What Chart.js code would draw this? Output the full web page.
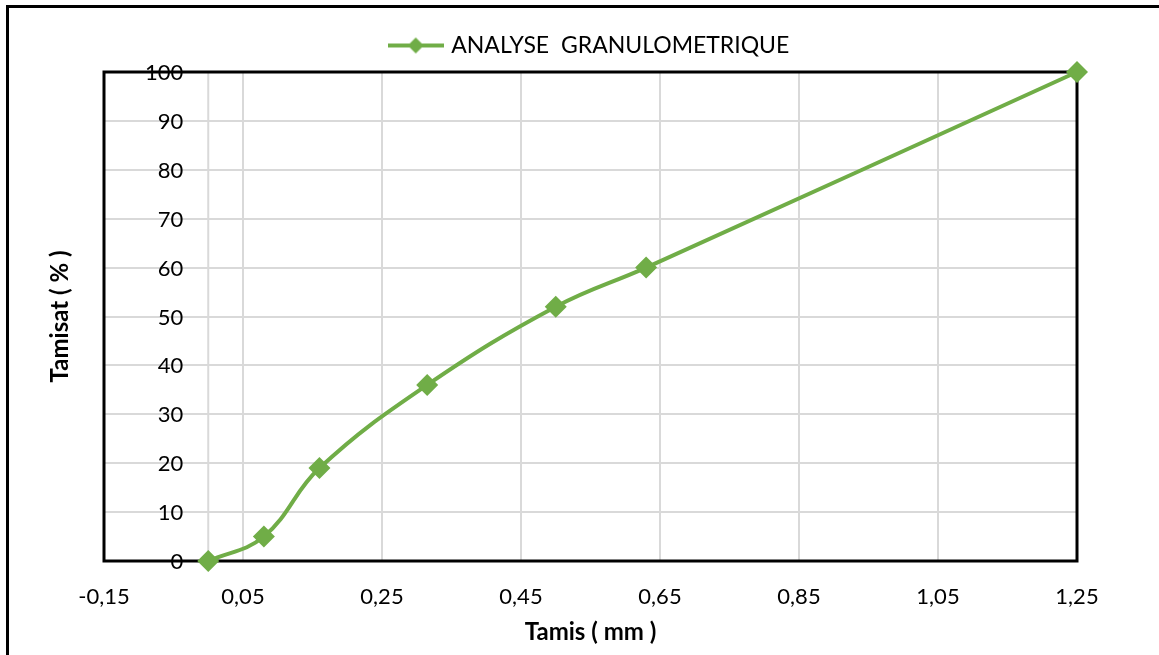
<!DOCTYPE html>
<html>
<head>
<meta charset="utf-8">
<script src="https://cdn.jsdelivr.net/npm/chart.js@4.4.1/dist/chart.umd.min.js"></script>
<style>
  html, body { margin: 0; padding: 0; background: #fff; overflow: hidden; }
  #wrap { width: 1159px; height: 655px; }
</style>
</head>
<body>
<div id="wrap"><canvas id="graphique" width="1159" height="655"></canvas></div>
<script>
// données
const tamis = [0, 0.08, 0.16, 0.315, 0.5, 0.63, 1.25];      // mm
const tamisat = [0, 5, 19, 36, 52, 60, 100];                 // %
const nomSerie = 'ANALYSE  GRANULOMETRIQUE';
const ticksX = [-0.15, 0.05, 0.25, 0.45, 0.65, 0.85, 1.05, 1.25];
const ticksY = [0, 10, 20, 30, 40, 50, 60, 70, 80, 90, 100];

const vert = '#70AD47';
const gris = '#d9d9d9';
const police = 'Lato';

// petit dessin ligne + losange pour la légende
const iconeLegende = (() => {
    const c = document.createElement('canvas');
    c.width = 56;
    c.height = 20;
    const g = c.getContext('2d');
    g.strokeStyle = vert;
    g.lineWidth = 4;
    g.beginPath();
    g.moveTo(0, 10);
    g.lineTo(56, 10);
    g.stroke();
    g.fillStyle = vert;
    g.beginPath();
    g.moveTo(28, 2);
    g.lineTo(36, 10);
    g.lineTo(28, 18);
    g.lineTo(20, 10);
    g.closePath();
    g.fill();
    return c;
})();

// cadre extérieur (bords gauche et haut visibles)
const cadre = {
    id: 'cadre',
    beforeDraw(chart) {
        const ctx = chart.ctx;
        ctx.save();
        ctx.fillStyle = '#000';
        ctx.fillRect(6, 5, 3, chart.height);
        ctx.fillRect(6, 5, chart.width, 3);
        ctx.restore();
    }
};

// axe vertical en x = 0 avec ses étiquettes, puis bordure de la zone de traçage
const axeY = {
    id: 'axeY',
    beforeDatasetsDraw(chart) {
        const { ctx, chartArea: a, scales: { x, y } } = chart;
        const x0 = x.getPixelForValue(0);
        ctx.save();
        ctx.strokeStyle = gris;
        ctx.lineWidth = 2;
        ctx.beginPath();
        ctx.moveTo(x0, a.top);
        ctx.lineTo(x0, a.bottom);
        ctx.stroke();

        ctx.font = '22px ' + police;
        ctx.fillStyle = '#000';
        ctx.textAlign = 'right';
        ctx.textBaseline = 'middle';
        y.ticks.forEach(t => {
            ctx.fillText(String(t.value), x0 - 25, y.getPixelForValue(t.value) + 1);
        });

        ctx.strokeStyle = '#000';
        ctx.lineWidth = 3;
        ctx.strokeRect(a.left, a.top, a.width, a.height);
        ctx.restore();
    }
};

const dessiner = () => {
    Chart.defaults.font.family = police;
    Chart.defaults.color = '#000';

    const ctx = document.getElementById('graphique').getContext('2d');
    new Chart(ctx, {
        type: 'line',
        data: {
            datasets: [{
                label: nomSerie,
                data: tamis.map((t, i) => ({ x: t, y: tamisat[i] })),
                borderColor: vert,
                backgroundColor: vert,
                borderWidth: 4,
                tension: 0.4,
                pointStyle: 'rectRot',
                pointRadius: 11,
                pointHoverRadius: 11,
                pointBorderWidth: 0,
                clip: false
            }]
        },
        options: {
            responsive: false,
            animation: false,
            devicePixelRatio: 1,
            layout: { padding: { top: 22, right: 82, bottom: 0, left: 0 } },
            plugins: {
                tooltip: { enabled: false },
                legend: {
                    position: 'top',
                    fullSize: false,
                    labels: {
                        usePointStyle: true,
                        pointStyleWidth: 48,
                        padding: 12,
                        font: { size: 23 },
                        color: '#000',
                        generateLabels: (chart) => [{
                            text: nomSerie,
                            pointStyle: iconeLegende,
                            fillStyle: vert,
                            strokeStyle: vert,
                            lineWidth: 0,
                            hidden: false,
                            datasetIndex: 0
                        }]
                    }
                }
            },
            scales: {
                x: {
                    type: 'linear',
                    min: -0.15,
                    max: 1.25,
                    afterBuildTicks: s => { s.ticks = ticksX.map(v => ({ value: v })); },
                    afterFit: s => { s.height = 94; },
                    grid: { color: gris, lineWidth: 2, drawTicks: false },
                    border: { display: false },
                    ticks: {
                        padding: 23,
                        maxRotation: 0,
                        autoSkip: false,
                        font: { size: 22 },
                        callback: v => v.toFixed(2).replace('.', ',')
                    },
                    title: {
                        display: true,
                        text: 'Tamis ( mm )',
                        font: { size: 24, weight: 'bold' },
                        padding: { top: 0, bottom: 8 }
                    }
                },
                // axe vide en haut : sert seulement d'espace sous la légende
                xHaut: {
                    type: 'linear',
                    position: 'top',
                    min: -0.15,
                    max: 1.25,
                    afterFit: s => { s.height = 5; },
                    grid: { display: false },
                    border: { display: false },
                    ticks: { display: false }
                },
                y: {
                    type: 'linear',
                    min: 0,
                    max: 100,
                    afterBuildTicks: s => { s.ticks = ticksY.map(v => ({ value: v })); },
                    afterFit: s => { s.width = 104; },
                    grid: { color: gris, lineWidth: 2, drawTicks: false },
                    border: { display: false },
                    ticks: { display: false },
                    title: {
                        display: true,
                        text: 'Tamisat ( % )',
                        font: { size: 24, weight: 'bold' },
                        padding: { top: 46, bottom: 0 }
                    }
                }
            }
        },
        plugins: [cadre, axeY]
    });
};

document.fonts.load('22px ' + police).then(dessiner, dessiner);
</script>
</body>
</html>
